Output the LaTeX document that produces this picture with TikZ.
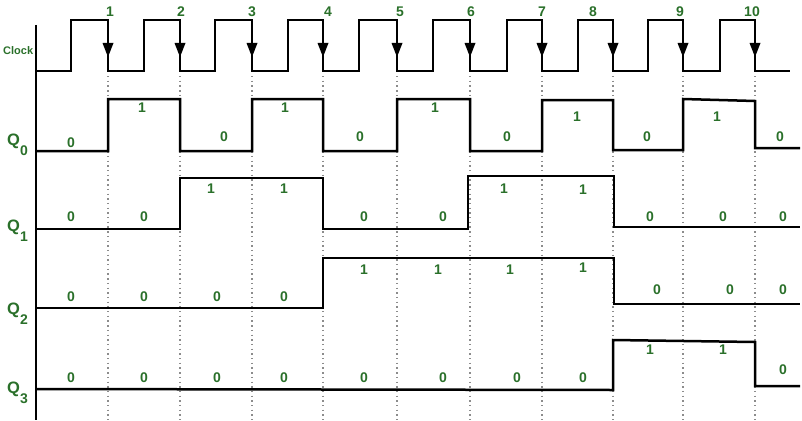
\documentclass[tikz,border=0pt]{standalone}
\usepackage{fontspec}
\setmainfont{Liberation Sans}
\definecolor{lblgreen}{RGB}{42,112,42}
\begin{document}
\begin{tikzpicture}[x=1pt,y=-1pt,
  sig/.style={line width=2.5pt, line join=miter, black},
  axisline/.style={line width=2.3pt, black},
  gridline/.style={line width=1.4pt, gray!90, dash pattern=on 1.4pt off 3.3pt},
  lbl/.style={text=lblgreen, font=\bfseries\fontsize{14}{14}\selectfont, inner sep=0pt, anchor=center},
  qlbl/.style={text=lblgreen, font=\bfseries\fontsize{16.5}{16.5}\selectfont, inner sep=0pt, anchor=base west},
  clklbl/.style={text=lblgreen, font=\bfseries\fontsize{11}{11}\selectfont, inner sep=0pt, anchor=base west},
  tip/.style={fill=black, draw=none}]
\useasboundingbox (0,0) rectangle (802,420);
% dotted guide lines at falling edges
\foreach \f in {108,180,252,323,397,470,542,613,683,755}
  \draw[gridline] (\f,76) -- (\f,420);
% axis
\draw[axisline] (36,25) -- (36,420);
% clock
\draw[sig] (36,71)
  \foreach \r/\f in {71/108,144/180,215/252,288/323,359/397,433/470,507/542,578/613,648/683,720/755}
  { -- (\r,71) -- (\r,20) -- (\f,20) -- (\f,71) } -- (790,71);
% arrowheads on falling edges
\foreach \f in {108,180,252,323,397,470,542,613,683,755}
  \fill[tip] (\f-5.5,43) -- (\f+5.5,43) -- (\f,57) -- cycle;
% Q0
\draw[sig] (36,151) -- (108,151) -- (108,99) -- (180,99) -- (180,151) -- (252,151) -- (252,99)
  -- (323,99) -- (323,151) -- (397,151) -- (397,99) -- (470,99) -- (470,151) -- (542,151)
  -- (542,100) -- (613,100) -- (613,150) -- (683,150) -- (683,99) -- (755,101) -- (755,148) -- (800,148);
% Q1
\draw[sig] (36,229) -- (180,229) -- (180,178) -- (323,178) -- (323,229) -- (468,229) -- (468,176)
  -- (614,176) -- (614,227) -- (800,227);
% Q2
\draw[sig] (36,308) -- (323,308) -- (323,258) -- (614,258) -- (614,304) -- (800,304);
% Q3
\draw[sig] (36,389) -- (613,390) -- (613,340) -- (755,342) -- (755,386) -- (800,386);
% labels
\node[clklbl] (clk) at (3,55) {Clock};
\node[qlbl] (q0) at (7,145) {Q\raisebox{-10pt}{\fontsize{14}{14}\selectfont 0}};
\node[qlbl] (q1) at (7,231) {Q\raisebox{-10pt}{\fontsize{14}{14}\selectfont 1}};
\node[qlbl] (q2) at (7,314) {Q\raisebox{-10pt}{\fontsize{14}{14}\selectfont 2}};
\node[qlbl] (q3) at (7,393) {Q\raisebox{-10pt}{\fontsize{14}{14}\selectfont 3}};
% edge numbers
\foreach \x/\t [count=\i] in {110/1,181/2,252/3,328/4,400/5,471/6,542/7,593/8,680/9,752/10}
  \node[lbl] (n\i) at (\x,12) {\t};
% Q0 values
\foreach \x/\y/\t [count=\i] in {71/143/0,142/108/1,224/137/0,285/108/1,360/137/0,435/108/1,507/137/0,577/117/1,647/137/0,717/117/1,780/137/0}
  \node[lbl] (a\i) at (\x,\y) {\t};
% Q1 values
\foreach \x/\y/\t [count=\i] in {71/217/0,144/217/0,211/189/1,284/189/1,364/217/0,443/217/0,504/189/1,583/190/1,650/217/0,723/217/0,783/217/0}
  \node[lbl] (b\i) at (\x,\y) {\t};
% Q2 values
\foreach \x/\y/\t [count=\i] in {71/297/0,144/297/0,217/297/0,284/297/0,364/270/1,438/270/1,510/270/1,583/268/1,657/290/0,730/290/0,783/290/0}
  \node[lbl] (c\i) at (\x,\y) {\t};
% Q3 values
\foreach \x/\y/\t [count=\i] in {71/378/0,144/378/0,217/378/0,284/378/0,364/378/0,443/378/0,517/378/0,583/378/0,650/350/1,723/350/1,783/370/0}
  \node[lbl] (d\i) at (\x,\y) {\t};
\end{tikzpicture}
\end{document}
